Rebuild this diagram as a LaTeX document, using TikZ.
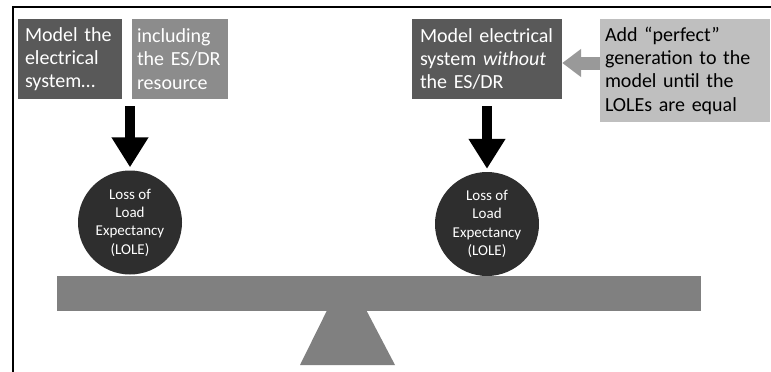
\documentclass[tikz,border=0pt]{standalone}
\usepackage{fontspec}
\setmainfont{Carlito}
\usetikzlibrary{positioning,calc,arrows.meta}

\begin{document}
\begin{tikzpicture}[
					x=1pt, y=-1pt, % toạ độ tính theo pixel, trục y hướng xuống
					box/.style={
						rectangle,
						inner ysep=2pt,
						minimum height=80pt,
						align=left,
						text=white,
						font=\fontsize{20}{23.3}\selectfont
					},
					dark/.style={fill=black!65},   % ô xám đậm
					mid/.style={fill=black!45},    % ô xám vừa
					light/.style={                 % ô xám nhạt, chữ đen
						fill=black!25,
						text=black
					},
					lole/.style={                  % hình tròn LOLE
						circle,
						fill=black!82,
						text=white,
						minimum size=104pt,
						inner sep=0pt,
						align=center,
						font=\fontsize{15}{18.3}\selectfont
					},
					big_arrow/.style={             % mũi tên đen lớn
						-{Triangle[length=30pt,width=35pt]},
						black, line width=10pt
					},
					hint_arrow/.style={            % mũi tên xám chỉ sang trái
						-{Triangle[length=19pt,width=27pt]},
						black!40, line width=13pt
					}
					]
					\useasboundingbox (0,0) rectangle (771,372);
					% --- KHUNG ---
					\draw[line width=2pt] (13,372) -- (13,6.5) -- (771,6.5);
					
					% --- CÁC Ô MÔ HÌNH ---
					\node[box, dark, text width=90pt, inner xsep=7pt] (model-with) at (70,59)
						{Model the\\electrical\\system\ldots};
					\node[box, mid, text width=86pt, inner xsep=5pt] (incl) at (180,59)
						{including\\the ES/DR\\resource};
					\node[box, dark, text width=134pt, inner xsep=8pt] (model-without) at (487,59)
						{Model electrical\\system \textit{without}\\the ES/DR};
					\node[box, light, text width=160pt, inner xsep=5pt, minimum height=103pt] (perfect) at (685,70.5)
						{Add “perfect”\\generation to the\\model until the\\LOLEs are equal};
					
					% --- HÌNH TRÒN LOLE ---
					\foreach \name/\cx/\cy in {lole-l/130/222.5, lole-r/487/224} {
						\node[lole] (\name) at (\cx,\cy) {Loss of\\Load\\Expectancy\\(LOLE)};
					}
					
					% --- ĐÒN CÂN ---
					\node[fill=black!50, minimum width=644pt, minimum height=35pt, inner sep=0pt] (beam) at (379,293.5) {};
					\fill[black!50] (326.7,311) -- (366.7,311) -- (395,365) -- (300,365) -- cycle;
					
					% --- MŨI TÊN ---
					\coordinate (split) at (130,106);
					\draw[big_arrow, shorten >=3pt] (split) -- (lole-l.north);
					\draw[big_arrow, shorten <=7pt, shorten >=3pt] (model-without.south) -- (lole-r.north);
					\draw[hint_arrow] ([yshift=-4pt]perfect.west |- model-without.east) -- ([yshift=-4pt]model-without.east);
					
				\end{tikzpicture}
\end{document}
